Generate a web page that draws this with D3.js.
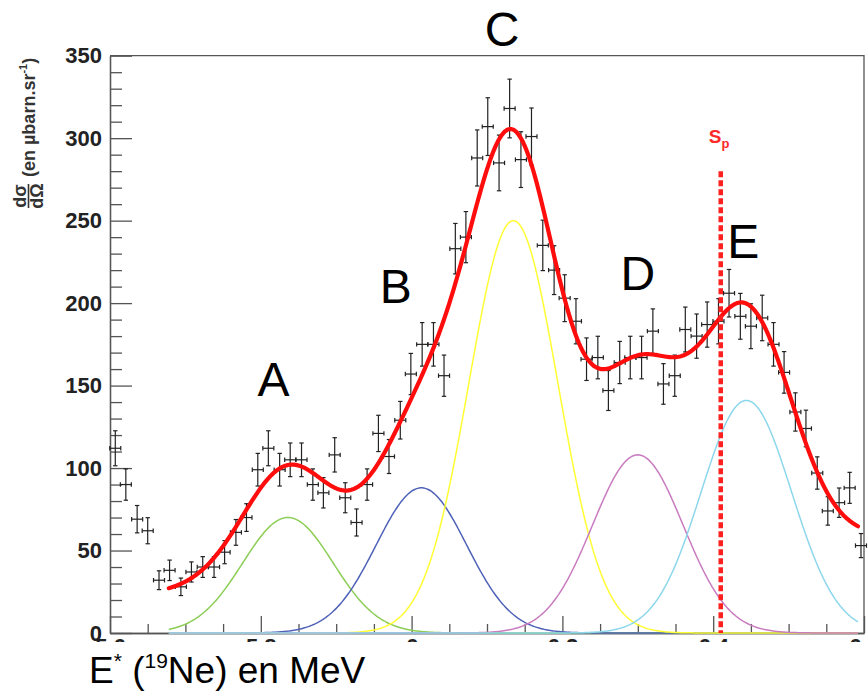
<!DOCTYPE html>
<html>
<head>
<meta charset="utf-8">
<script src="https://cdn.jsdelivr.net/npm/d3@7"></script>
<style>
body { margin: 0; background: #fff; }
svg { display: block; font-family: "Liberation Sans", Arial, sans-serif; }
</style>
</head>
<body>
<div id="chart"></div>
<script>
// measured spectrum (bin centres in MeV, cross-section, error)
const energies = [5.607, 5.621, 5.636, 5.650, 5.665, 5.679, 5.694, 5.708, 5.723, 5.738,
    5.752, 5.767, 5.781, 5.796, 5.810, 5.825, 5.839, 5.854, 5.869, 5.883,
    5.898, 5.912, 5.927, 5.941, 5.956, 5.970, 5.985, 5.999, 6.014, 6.029,
    6.043, 6.058, 6.072, 6.087, 6.101, 6.116, 6.130, 6.145, 6.159, 6.174,
    6.189, 6.203, 6.218, 6.232, 6.247, 6.261, 6.276, 6.290, 6.305, 6.320,
    6.334, 6.349, 6.363, 6.378, 6.392, 6.407, 6.421, 6.436, 6.450, 6.465,
    6.480, 6.494, 6.509, 6.523, 6.538, 6.552, 6.567, 6.581, 6.596];
const counts = [112, 90, 69, 62, 32, 38, 28, 37, 40, 40,
    49, 61, 70, 99, 112, 99, 105, 105, 90, 85,
    108, 82, 67, 90, 121, 107, 129, 157, 175, 175,
    156, 233, 240, 288, 307, 285, 318, 287, 301, 235,
    220, 203, 189, 166, 167, 147, 164, 167, 167, 183,
    151, 156, 184, 180, 187, 189, 206, 192, 186, 191,
    175, 158, 134, 124, 97, 74, 79, 88, 53];
const errors = [10.6, 9.5, 8.3, 7.9, 5.7, 6.2, 5.3, 6.1, 6.3, 6.3,
    7.0, 7.8, 8.4, 9.9, 10.6, 9.9, 10.2, 10.2, 9.5, 9.2,
    10.4, 9.1, 8.2, 9.5, 11.0, 10.3, 11.4, 12.5, 13.2, 13.2,
    12.5, 15.3, 15.5, 17.0, 17.5, 16.9, 17.8, 16.9, 17.3, 15.3,
    14.8, 14.2, 13.7, 12.9, 12.9, 12.1, 12.8, 12.9, 12.9, 13.5,
    12.3, 12.5, 13.6, 13.4, 13.7, 13.7, 14.4, 13.9, 13.6, 13.8,
    13.2, 12.6, 11.6, 11.1, 9.8, 8.6, 8.9, 9.4, 7.3];
const binHalf = 0.0073;

// fitted peaks
const peakNames = ["A", "B", "C", "D", "E"];
const peakCentroids = [5.836, 6.013, 6.135, 6.300, 6.444];
const peakHeights = [70, 88, 250, 108, 141];
const peakWidths = [0.06, 0.06, 0.059, 0.06, 0.06];
const fitRange = [5.678, 6.592];
const backgroundLevels = [25, 58];

const xTicks = [5.6, 5.8, 6.0, 6.2, 6.4, 6.6];
const yTicks = [0, 50, 100, 150, 200, 250, 300, 350];
const protonSeparation = 6.41;

const peakColors = ["#8ccd55", "#4f62b8", "#ffff33", "#c97cc0", "#8dd7ec"];

const width = 868, height = 693;
const margin = {top: 55.7, right: 4, bottom: 60, left: 110};

const x = d3.scaleLinear().domain([5.6, 6.6]).range([margin.left, width - margin.right]);
const y = d3.scaleLinear().domain([0, 350]).range([height - margin.bottom, margin.top]);

const svg = d3.select("#chart").append("svg")
    .attr("width", width)
    .attr("height", height);

function gauss(e, i) {
    const d = e - peakCentroids[i];
    return peakHeights[i] * Math.exp(-d * d / (2 * peakWidths[i] * peakWidths[i]));
}

function background(e) {
    return backgroundLevels[0] + (backgroundLevels[1] - backgroundLevels[0]) * (e - fitRange[0]) / (fitRange[1] - fitRange[0]);
}

function total(e) {
    return background(e) + d3.sum(peakNames, (_, i) => gauss(e, i));
}

const grid = d3.range(fitRange[0], fitRange[1] + 1e-9, 0.002);
const line = d3.line().x(d => x(d[0])).y(d => y(d[1]));

// axes (ticks point inside the frame), x labels cut like the original
svg.append("clipPath").attr("id", "cut")
    .append("rect").attr("x", 0).attr("y", 0).attr("width", width).attr("height", 642);

svg.append("g")
    .attr("clip-path", "url(#cut)")
    .append("g")
    .attr("transform", `translate(0,${y(0)})`)
    .call(d3.axisBottom(x).tickValues(xTicks).tickSize(-17).tickSizeOuter(0).tickPadding(5)
        .tickFormat(d => d === 6 ? "6" : d.toFixed(1)));
svg.append("g")
    .attr("transform", `translate(0,${y(0)})`)
    .call(d3.axisBottom(x).tickValues(d3.range(5.65, 6.6, 0.05).filter((d, i) => i % 4 !== 3))
        .tickSize(-9).tickSizeOuter(0).tickFormat(""));

svg.append("g")
    .attr("transform", `translate(${margin.left},0)`)
    .call(d3.axisLeft(y).tickValues(yTicks).tickSize(-22).tickSizeOuter(0).tickPadding(8));
svg.append("g")
    .attr("transform", `translate(${margin.left},0)`)
    .call(d3.axisLeft(y).tickValues(d3.range(10, 350, 10).filter(d => d % 50 !== 0))
        .tickSize(-12).tickSizeOuter(0).tickFormat(""));

svg.selectAll(".domain, .tick line").attr("stroke", "#555").attr("stroke-width", 1.3);
svg.selectAll(".tick text")
    .attr("font-family", "'Liberation Sans', Arial, sans-serif")
    .attr("font-size", 22)
    .attr("font-weight", "bold")
    .attr("fill", "#222");

// frame top and right
svg.append("path")
    .attr("d", `M${margin.left},${margin.top}H${width - margin.right}V${y(0)}`)
    .attr("fill", "none")
    .attr("stroke", "#555")
    .attr("stroke-width", 1.3);

// individual components
peakNames.forEach((name, i) => {
    svg.append("path")
        .datum(grid.map(e => [e, gauss(e, i)]))
        .attr("d", line)
        .attr("fill", "none")
        .attr("stroke", peakColors[i])
        .attr("stroke-width", 1.5);
});

// data points with error bars
const points = energies.map((e, i) => ({e: e, v: counts[i], err: errors[i]}));
const pt = svg.append("g")
    .attr("stroke", "#222")
    .attr("stroke-width", 1.2)
    .selectAll("g")
    .data(points)
    .join("g");

pt.append("line")
    .attr("x1", d => x(d.e)).attr("x2", d => x(d.e))
    .attr("y1", d => y(d.v - d.err)).attr("y2", d => y(d.v + d.err));
pt.append("line")
    .attr("x1", d => x(d.e - binHalf)).attr("x2", d => x(d.e + binHalf))
    .attr("y1", d => y(d.v)).attr("y2", d => y(d.v));
[-1, 1].forEach(s => {
    pt.append("line")
        .attr("x1", d => x(d.e) - 2.2).attr("x2", d => x(d.e) + 2.2)
        .attr("y1", d => y(d.v + s * d.err)).attr("y2", d => y(d.v + s * d.err));
    pt.append("line")
        .attr("x1", d => x(d.e + s * binHalf)).attr("x2", d => x(d.e + s * binHalf))
        .attr("y1", d => y(d.v) - 2.2).attr("y2", d => y(d.v) + 2.2);
});

// total fit
svg.append("path")
    .datum(grid.map(e => [e, total(e)]))
    .attr("d", line)
    .attr("fill", "none")
    .attr("stroke", "#ff0d0d")
    .attr("stroke-width", 4.2)
    .attr("stroke-linejoin", "round")
    .attr("stroke-linecap", "round");

// proton separation energy
svg.append("line")
    .attr("x1", x(protonSeparation)).attr("x2", x(protonSeparation))
    .attr("y1", y(280)).attr("y2", y(0))
    .attr("stroke", "#ff2020")
    .attr("stroke-width", 4.5)
    .attr("stroke-dasharray", "6,3");

const spLabel = svg.append("text")
    .attr("x", x(protonSeparation) - 12)
    .attr("y", 143)
    .attr("fill", "#ff2a2a")
    .attr("font-weight", "bold")
    .attr("font-size", 19);
spLabel.append("tspan").text("S");
spLabel.append("tspan").attr("font-size", 13).attr("dy", 5).text("p");

// peak letters
const letterPos = [[5.817, 143.6], [5.979, 200], [6.12, 355.6], [6.30, 208], [6.44, 227.5]];
svg.append("g")
    .selectAll("text")
    .data(peakNames)
    .join("text")
    .attr("x", (d, i) => x(letterPos[i][0]))
    .attr("y", (d, i) => y(letterPos[i][1]))
    .attr("text-anchor", "middle")
    .attr("font-size", 48)
    .attr("fill", "#000")
    .text(d => d);

// axis titles
const xt = svg.append("text")
    .attr("x", 89)
    .attr("y", 683)
    .attr("font-size", 37)
    .attr("fill", "#000");
xt.append("tspan").text("E");
xt.append("tspan").attr("font-size", 21).attr("dy", -15).text("*");
xt.append("tspan").attr("dy", 15).text(" (");
xt.append("tspan").attr("font-size", 21).attr("dy", -15).text("19");
xt.append("tspan").attr("dy", 15).text("Ne) en MeV");

const yt = svg.append("g")
    .attr("transform", "translate(35,0) rotate(-90)")
    .attr("fill", "#333")
    .attr("font-weight", "bold");
const unit = yt.append("text").attr("x", -177).attr("y", 0).attr("font-size", 18);
unit.append("tspan").text("(en \u00b5barn.sr");
unit.append("tspan").attr("font-size", 11).attr("dy", -8).text("-1");
unit.append("tspan").attr("dy", 8).text(")");
yt.append("text").attr("x", -196).attr("y", -9).attr("text-anchor", "middle").attr("font-size", 18).text("d\u03c3");
yt.append("line").attr("x1", -208).attr("x2", -184).attr("y1", -6.5).attr("y2", -6.5)
    .attr("stroke", "#333").attr("stroke-width", 1.6);
yt.append("text").attr("x", -196).attr("y", 8).attr("text-anchor", "middle").attr("font-size", 18).text("d\u03a9");
</script>
</body>
</html>
